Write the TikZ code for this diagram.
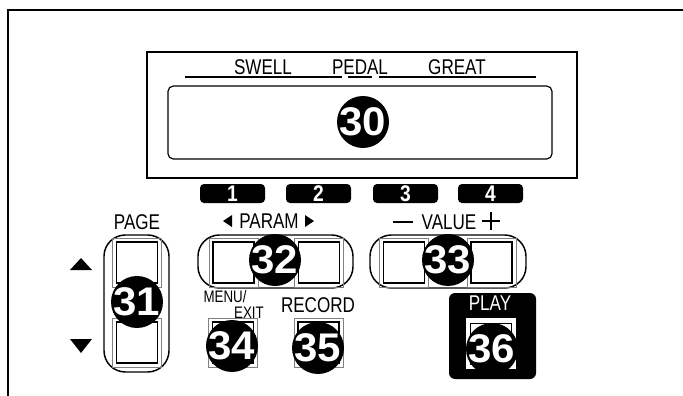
\documentclass[tikz,border=0pt]{standalone}
\usepackage{fontspec}
\setmainfont{Liberation Sans}
\newfontfamily\condfont[FakeStretch=0.8]{Liberation Sans}
\newfontfamily\condbold[FakeStretch=0.85]{Liberation Sans Bold}
\newfontfamily\numfont[FakeStretch=1.05]{Liberation Sans Bold}
\begin{document}
\begin{tikzpicture}[
  x=0.75pt, y=-0.75pt,
  lbl/.style={font=\condfont\fontsize{16}{17}\selectfont, inner sep=0pt},
  num/.style={circle, fill=black, text=white, minimum size=39pt, inner sep=0pt, font=\numfont\fontsize{30}{30}\selectfont,
    execute at begin node={\hbox to 0pt\bgroup\hss}, execute at end node={\hss\egroup}},
  tab/.style={fill=black, rounded corners=3pt, minimum width=48.75pt, minimum height=14.25pt, inner sep=0pt, text=white, font=\condbold\fontsize{17}{17}\selectfont},
  pill/.style={draw, line width=1.1pt, rounded corners=16pt},
  btn/.style={draw, fill=white, line width=0.8pt, minimum size=30.75pt, inner sep=0pt},
  frm/.style={draw=gray, line width=0.5pt, minimum size=36.75pt, inner sep=0pt},
  bar/.style={line width=2.2pt},
  tri/.style={fill=black}
]
\useasboundingbox (0,0) rectangle (683,396);
\draw[line width=1.1pt] (8,396) -- (8,10) -- (683,10);

% display
\node[draw, line width=1.1pt, minimum width=322.5pt, minimum height=94.5pt] (disp) at (362,115) {};
\node[draw, line width=0.9pt, rounded corners=4pt, minimum width=288pt, minimum height=54.75pt] (screen) at (360,122.5) {};
\node[lbl] (swell) at (263,67) {SWELL};
\node[lbl] (pedal) at (360,67) {PEDAL};
\node[lbl] (great) at (457,67) {GREAT};
\draw[bar] (185,77) -- (342,77);
\draw[bar] (348,77) -- (372,77);
\draw[bar] (379,77) -- (536,77);

% number tabs
\node[tab] (t1) at (232.5,193.5) {1};
\node[tab] (t2) at (318.5,193.5) {2};
\node[tab] (t3) at (405.5,193.5) {3};
\node[tab] (t4) at (490.5,193.5) {4};

% labels
\node[lbl] (page) at (137,222) {PAGE};
\node[lbl] (param) at (269,221.5) {PARAM};
\fill[tri] (223,221) -- (232,215) -- (232,227) -- cycle;
\fill[tri] (314,221) -- (305,215) -- (305,227) -- cycle;
\node[lbl] (value) at (449,222) {VALUE};
\draw[line width=1.5pt] (393,222) -- (413,222);
\draw[line width=1.5pt] (482,221) -- (500,221) (491,212) -- (491,230);
\fill[tri] (81,258) -- (92,270) -- (70,270) -- cycle;
\fill[tri] (81,353) -- (92,339) -- (70,339) -- cycle;

% pills
\node[pill, minimum width=48.75pt, minimum height=102.75pt] (pgpill) at (136.5,303.5) {};
\node[pill, minimum width=116.25pt, minimum height=39.75pt] (parpill) at (275.5,261.5) {};
\node[pill, minimum width=117pt, minimum height=39.75pt] (valpill) at (448,261.5) {};

% play box
\node[fill=black, rounded corners=4.5pt, minimum width=65.25pt, minimum height=64.5pt] (playbox) at (492.5,336) {};
\node[text=white, font=\condfont\fontsize{16}{17}\selectfont, inner sep=0pt] (play) at (490,303) {PLAY};
\node[fill=white, minimum width=37.5pt, minimum height=38.25pt, inner sep=0pt] (playfrm) at (491,343.5) {};

% buttons
\node[btn] (pgup) at (137,262.5) {};
\node[btn] (pgdn) at (137,342.5) {};
\node[btn] (parl) at (233.5,262.5) {};
\node[btn] (parr) at (319,262.5) {};
\node[btn] (vall) at (404,262.5) {};
\node[btn] (valr) at (491.5,262.5) {};
\node[btn] (menu) at (233,342.5) {};
\node[btn] (rec) at (318.5,342.5) {};
\node[btn, line width=0.5pt] (playbtn) at (491,343.5) {};
\foreach \b in {pgup,pgdn,parl,parr,vall,valr,menu,rec}
  \node[frm] at (\b) {};

\node[font=\condfont\fontsize{12.5}{13}\selectfont, inner sep=0pt] (menulbl) at (225,297) {MENU/};
\node[font=\condfont\fontsize{12.5}{13}\selectfont, inner sep=0pt] (exitlbl) at (249,313) {EXIT};
\node[lbl] (reclbl) at (318,305) {RECORD};

% numbered circles
\node[num] (n30) at (363,122) {30};
\node[num] (n31) at (137,302) {31};
\node[num] (n32) at (275,260) {32};
\node[num] (n33) at (448,260) {33};
\node[num] (n34) at (232,346) {34};
\node[num] (n35) at (318,348) {35};
\node[num] (n36) at (492,349) {36};
\end{tikzpicture}
\end{document}
